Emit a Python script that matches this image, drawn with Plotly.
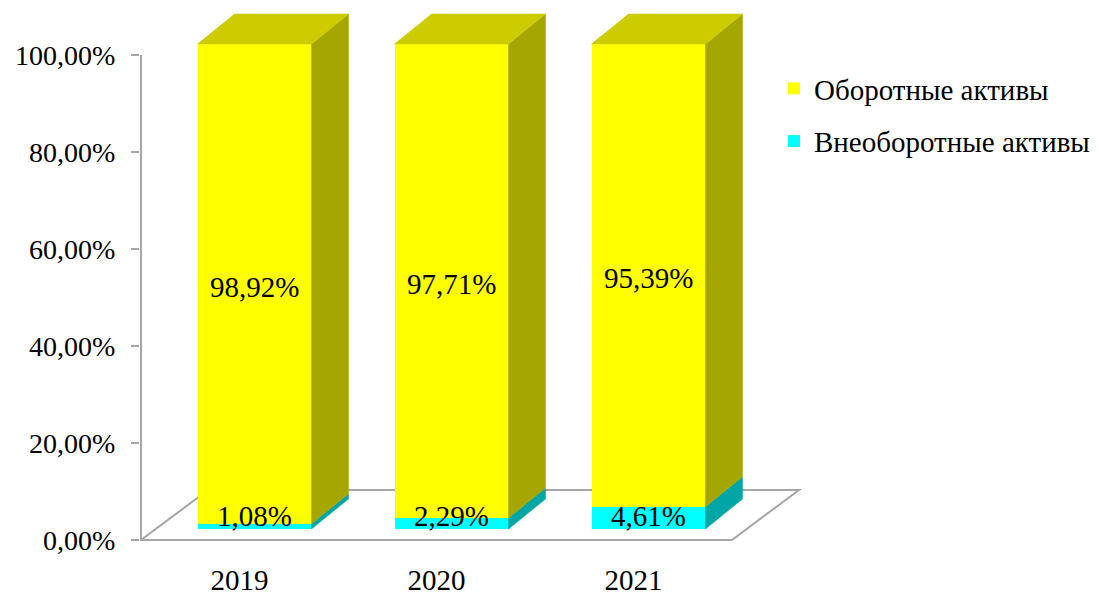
import plotly.graph_objects as go

# ---------------- data ----------------
years = ["2019", "2020", "2021"]
current_assets = [98.92, 97.71, 95.39]       # Оборотные активы
noncurrent_assets = [1.08, 2.29, 4.61]       # Внеоборотные активы
current_labels = ["98,92%", "97,71%", "95,39%"]
noncurrent_labels = ["1,08%", "2,29%", "4,61%"]
series_names = ["Оборотные активы", "Внеоборотные активы"]
y_ticks = [0, 20, 40, 60, 80, 100]
y_tick_labels = ["0,00%", "20,00%", "40,00%", "60,00%", "80,00%", "100,00%"]

# ---------------- geometry (pixels -> axis units) ----------------
W, H = 1098, 594
PLOT_L, PLOT_R, PLOT_T, PLOT_B = 140, 805, 5, 554
Y0_PX, Y100_PX = 540, 55
PX_PER_PCT = (Y0_PX - Y100_PX) / 100.0
CAT0_PX, CAT_STEP_PX = 239.5, 197.0


def ux(px):
    return px / CAT_STEP_PX


def uy(px):
    return px / PX_PER_PCT


x_range = [(PLOT_L - CAT0_PX) / CAT_STEP_PX, (PLOT_R - CAT0_PX) / CAT_STEP_PX]
y_range = [(Y0_PX - PLOT_B) / PX_PER_PCT, (Y0_PX - PLOT_T) / PX_PER_PCT]

FLOOR_DX, FLOOR_DY = ux(67), uy(50)
BAR_SHIFT_X, BAR_BASE = ux(15), uy(11)
BAR_W = ux(114)
BAR_DX, BAR_DY = ux(37), uy(30)

YELLOW, YELLOW_SIDE, YELLOW_TOP = "#FFFF00", "#A6A600", "#CCCC00"
CYAN, CYAN_SIDE = "#00FFFF", "#00A6A6"
GRID = "#A6A6A6"
FONT = "Liberation Serif, Times New Roman, serif"

n = len(years)
xs = [i + BAR_SHIFT_X for i in range(n)]
cyan_base = [BAR_BASE] * n
yellow_base = [BAR_BASE + v for v in noncurrent_assets]
tops = [yellow_base[i] + current_assets[i] for i in range(n)]

fig = go.Figure()

# front faces
fig.add_trace(go.Bar(
    x=xs, y=noncurrent_assets, base=cyan_base, width=BAR_W,
    marker=dict(color=CYAN, line=dict(width=0)),
    name=series_names[1], legendrank=2, legendgroup="b",
    hoverinfo="skip",
))
fig.add_trace(go.Bar(
    x=xs, y=current_assets, base=yellow_base, width=BAR_W,
    marker=dict(color=YELLOW, line=dict(width=0)),
    name=series_names[0], legendrank=1, legendgroup="a",
    hoverinfo="skip",
))

# side and top faces
def side_poly(lo, hi):
    px, py = [], []
    for i in range(n):
        xr = xs[i] + BAR_W / 2
        b0, b1 = lo[i], hi[i]
        px += [xr, xr + BAR_DX, xr + BAR_DX, xr, xr, None]
        py += [b0, b0 + BAR_DY, b1 + BAR_DY, b1, b0, None]
    return px, py


cx, cy = side_poly(cyan_base, yellow_base)
yx, yy = side_poly(yellow_base, tops)
tx, ty = [], []
for i in range(n):
    xl, xr = xs[i] - BAR_W / 2, xs[i] + BAR_W / 2
    t = tops[i]
    tx += [xl, xl + BAR_DX, xr + BAR_DX, xr, xl, None]
    ty += [t, t + BAR_DY, t + BAR_DY, t, t, None]

for px, py, col in [(cx, cy, CYAN_SIDE), (yx, yy, YELLOW_SIDE), (tx, ty, YELLOW_TOP)]:
    fig.add_trace(go.Scatter(
        x=px, y=py, mode="lines", fill="toself", fillcolor=col,
        line=dict(width=0.5, color=col), showlegend=False, hoverinfo="skip",
    ))

# floor and axis line
fx0, fx1 = -0.5, n - 0.5
fig.add_shape(type="path", xref="x", yref="y", layer="below",
              path=f"M {fx0},0 L {fx1},0 L {fx1 + FLOOR_DX},{FLOOR_DY} L {fx0 + FLOOR_DX},{FLOOR_DY} Z",
              line=dict(color=GRID, width=2))
fig.add_shape(type="line", xref="x", yref="y", layer="below",
              x0=fx0, x1=fx0, y0=0, y1=100, line=dict(color=GRID, width=2))

# value labels
for i in range(n):
    fig.add_annotation(x=xs[i], y=yellow_base[i] + current_assets[i] / 2, text=current_labels[i],
                       showarrow=False, yshift=-3, font=dict(size=29, color="black", family=FONT))
    fig.add_annotation(x=xs[i], y=BAR_BASE + max(noncurrent_assets[i] / 2, 2.6), text=noncurrent_labels[i],
                       showarrow=False, font=dict(size=29, color="black", family=FONT))

fig.update_layout(
    width=W, height=H,
    margin=dict(l=PLOT_L, r=W - PLOT_R, t=PLOT_T, b=H - PLOT_B, autoexpand=False),
    paper_bgcolor="white", plot_bgcolor="white",
    barmode="overlay", bargap=0,
    font=dict(family=FONT, size=28, color="black"),
    hovermode=False,
    xaxis=dict(range=x_range, tickvals=list(range(n)), ticktext=years,
               showgrid=False, zeroline=False, showline=False, ticks="",
               tickfont=dict(size=29), automargin=False,
               ticklabelstandoff=6, fixedrange=True),
    yaxis=dict(range=y_range, tickvals=y_ticks, ticktext=y_tick_labels,
               showgrid=False, zeroline=False, showline=False,
               ticks="outside", ticklen=8, tickwidth=2, tickcolor=GRID,
               tickfont=dict(size=28), automargin=False,
               ticklabelstandoff=10, fixedrange=True),
    legend=dict(xref="container", yref="container", x=774 / W, y=1 - 63 / H,
                xanchor="left", yanchor="top", tracegroupgap=12,
                font=dict(size=29, family=FONT, color="black"),
                bgcolor="rgba(0,0,0,0)"),
    showlegend=True,
)

fig.write_html(
    "out.html",
    config={"displayModeBar": False},
    post_script="document.body.style.margin='0';document.body.style.padding='0';",
)
